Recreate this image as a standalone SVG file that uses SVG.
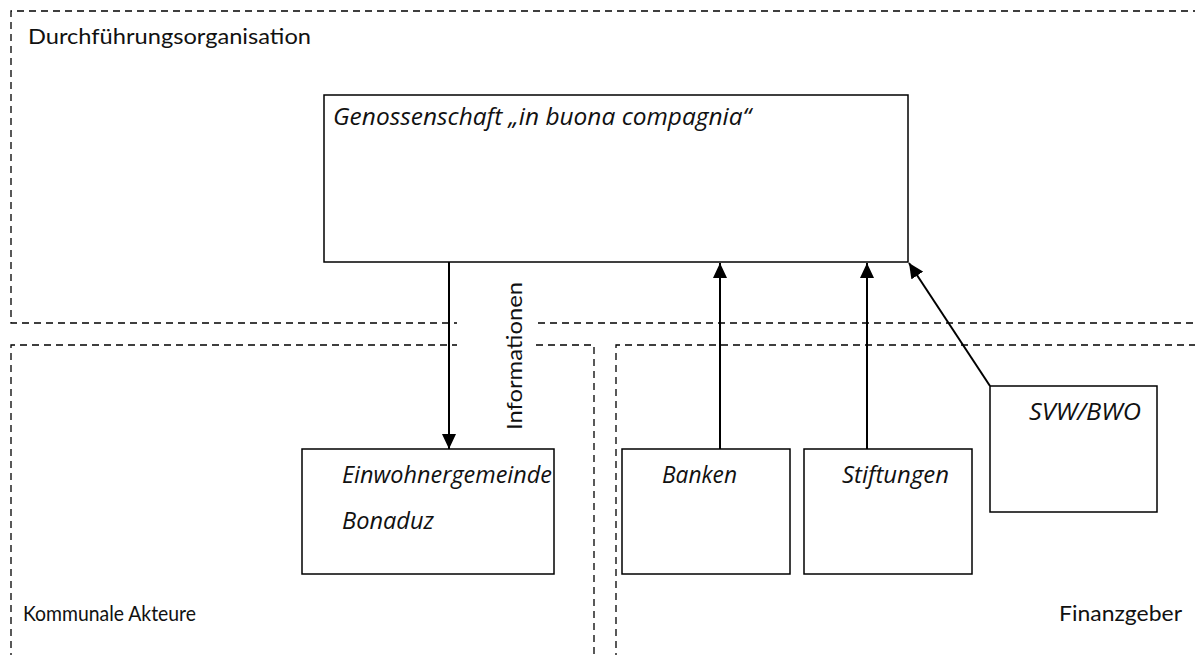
<svg xmlns="http://www.w3.org/2000/svg" width="1195" height="655" viewBox="0 0 1195 655">
  <style>
    .bg { fill: #ffffff; }
    .region { fill: none; stroke: #000; stroke-width: 1.3; stroke-dasharray: 7 5; }
    .box { fill: #ffffff; stroke: #000; stroke-width: 1.5; }
    .conn { fill: none; stroke: #000; stroke-width: 2; }
    .lbl { font-family: Lato, "Open Sans", sans-serif; font-size: 22px; fill: #111; }
    .it { font-family: "Open Sans", "Noto Sans", sans-serif; font-size: 23px; font-style: italic; fill: #111; }
  </style>
  <defs>
    <marker id="arrow" markerUnits="userSpaceOnUse" markerWidth="16" markerHeight="14" refX="15" refY="7" orient="auto">
      <path d="M0,0 L15,7 L0,14 z" fill="#000"/>
    </marker>
  </defs>
  <rect class="bg" x="0" y="0" width="1195" height="655"/>

  <g id="regions">
    <path class="region" d="M1200,11 H11 V323 H1200"/>
    <path class="region" d="M11,660 V345 H594 V660"/>
    <path class="region" d="M616,660 V345 H1200"/>
    <rect x="457" y="300" width="78" height="60" fill="#fff"/>
    <text class="lbl" x="28" y="44" textLength="283" lengthAdjust="spacingAndGlyphs">Durchführungsorganisation</text>
    <text class="lbl" x="23" y="621" textLength="173" lengthAdjust="spacingAndGlyphs">Kommunale Akteure</text>
    <text class="lbl" x="1059" y="621" textLength="123" lengthAdjust="spacingAndGlyphs">Finanzgeber</text>
  </g>

  <g id="genossenschaft">
    <rect class="box" x="324" y="95" width="584" height="167"/>
    <text class="it" x="333" y="125" textLength="418" lengthAdjust="spacingAndGlyphs">Genossenschaft „in buona compagnia“</text>
  </g>

  <g id="einwohnergemeinde">
    <rect class="box" x="302" y="449" width="252" height="125"/>
    <text class="it" x="342" y="483" textLength="210" lengthAdjust="spacingAndGlyphs">Einwohnergemeinde</text>
    <text class="it" x="342" y="529" textLength="92" lengthAdjust="spacingAndGlyphs">Bonaduz</text>
  </g>

  <g id="banken">
    <rect class="box" x="622" y="449" width="168" height="125"/>
    <text class="it" x="662" y="483" textLength="75" lengthAdjust="spacingAndGlyphs">Banken</text>
  </g>

  <g id="stiftungen">
    <rect class="box" x="804" y="449" width="168" height="125"/>
    <text class="it" x="842" y="483" textLength="107" lengthAdjust="spacingAndGlyphs">Stiftungen</text>
  </g>

  <g id="svwbwo">
    <rect class="box" x="990" y="386" width="167" height="126"/>
    <text class="it" x="1029" y="420" textLength="112" lengthAdjust="spacingAndGlyphs">SVW/BWO</text>
  </g>

  <g id="connectors">
    <line class="conn" x1="449" y1="262" x2="449" y2="449" marker-end="url(#arrow)"/>
    <line class="conn" x1="720" y1="449" x2="720" y2="263" marker-end="url(#arrow)"/>
    <line class="conn" x1="867" y1="449" x2="867" y2="263" marker-end="url(#arrow)"/>
    <line class="conn" x1="990" y1="386" x2="909" y2="263" marker-end="url(#arrow)"/>
    <text class="lbl" transform="translate(522,430) rotate(-90)" x="0" y="0" textLength="148" lengthAdjust="spacingAndGlyphs">Informationen</text>
  </g>
</svg>
